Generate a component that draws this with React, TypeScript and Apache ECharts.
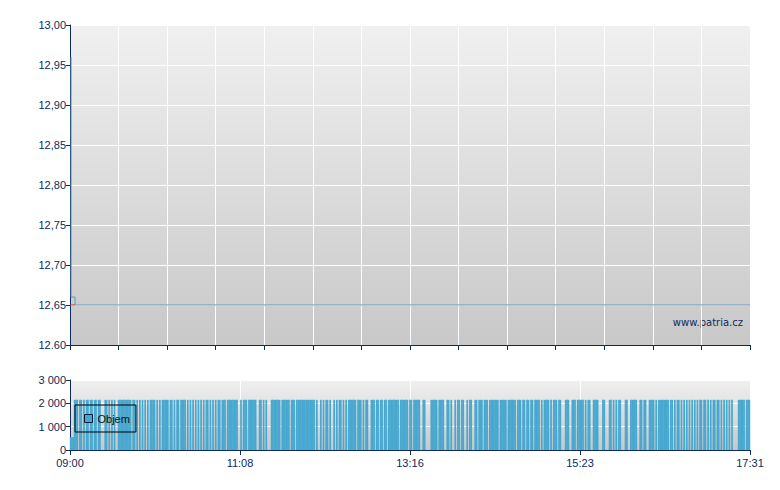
import React, { useEffect, useRef } from "react";
import * as echarts from "echarts";

// Trading session: 09:00 .. 17:31, x in minutes since 09:00
const sessionStart = 9 * 60;
const sessionMinutes = 511;

// Price (step) path
const priceTimes = [0.8, 0.8, 3.8, 3.8, 511];
const priceValues = [12.96, 12.66, 12.66, 12.65, 12.65];
// Previous close marker
const prevCloseTimes = [0, 3.8];
const prevCloseValues = [12.65, 12.65];

const priceTicks = [12.6, 12.65, 12.7, 12.75, 12.8, 12.85, 12.9, 12.95, 13.0];
const volumeTicks = [0, 1000, 2000, 3000];

// Volume: opening auction minutes, regular trade level, and minutes without trades
const openingMinutes = [0, 1, 2];
const openingVolume = 550;
const tradeVolume = 2150;
const emptyMinutes = [
  6, 9, 11, 14, 17, 20, 23, 24, 25, 28, 30, 32, 34, 35, 46, 49, 51, 53, 55, 57, 59, 64, 66, 68, 74, 77, 79, 82,
  87, 89, 91, 93, 95, 97, 99, 101, 104, 106, 108, 110, 113, 117, 126, 127, 129, 133, 140, 141, 144, 146, 148, 149, 150, 158, 165, 169,
  184, 186, 187, 189, 191, 194, 196, 197, 199, 201, 204, 206, 208, 215, 219, 221, 224, 225, 229, 232, 235, 238, 247, 254,
  257, 263, 264, 267, 268, 269, 270, 276, 281, 282, 285, 287, 288, 290, 293, 296, 297, 299, 302, 303, 306, 310, 314, 322, 328, 335, 339,
  342, 345, 348, 353, 355, 360, 362, 366, 369, 370, 371, 375, 376, 380, 386, 388, 391, 392, 397, 398, 399, 402, 403, 404, 407, 409, 411, 414, 415, 416, 419, 420,
  426, 427, 430, 433, 434, 439, 441, 450, 453, 455, 458, 460, 462, 464, 466, 468, 470, 472, 475, 478, 480, 482, 485, 488, 490, 492, 494, 496, 498, 499, 500, 501, 507,
];

const NAVY = "#0c2a5c";
const BLUE = "#48a8d0";
const FONT = "'Liberation Sans', Arial, sans-serif";

function fmtTime(m: number) {
  const t = sessionStart + Math.round(m);
  const h = Math.floor(t / 60);
  const mm = t % 60;
  return (h < 10 ? "0" : "") + h + ":" + (mm < 10 ? "0" : "") + mm;
}

function bg() {
  return new echarts.graphic.LinearGradient(0, 0, 0, 1, [
    { offset: 0, color: "#f0f0f0" },
    { offset: 1, color: "#c8c8c8" },
  ]);
}

export default function App() {
  const ref = useRef<HTMLDivElement>(null);
  useEffect(() => {
    if (!ref.current) return;
    const chart = echarts.init(ref.current, undefined, { renderer: "svg" });

    const empty = new Set(emptyMinutes);
    const volumeData: [number, number][] = [];
    for (let m = 0; m < sessionMinutes; m++) {
      let v = 0;
      if (openingMinutes.indexOf(m) >= 0) v = openingVolume;
      else if (!empty.has(m)) v = tradeVolume;
      if (v > 0) volumeData.push([m + 0.5, v]);
    }

    const axisText = { color: NAVY, fontFamily: FONT, fontSize: 11 };

    chart.setOption({
      animation: false,
      grid: [
        { left: 70, right: 30, top: 25, height: 320, show: true, borderWidth: 0, backgroundColor: bg() },
        { left: 70, right: 30, top: 380, height: 70, show: true, borderWidth: 0, backgroundColor: bg() },
      ],
      xAxis: [
        {
          type: "value", gridIndex: 0, min: 0, max: sessionMinutes, interval: sessionMinutes / 14,
          axisLine: { show: true, onZero: false, lineStyle: { color: NAVY, width: 1 } },
          axisTick: { show: true, length: 5, lineStyle: { color: NAVY } },
          axisLabel: { show: false },
          splitLine: { show: true, lineStyle: { color: "#ffffff", width: 1 } },
        },
        {
          type: "value", gridIndex: 1, min: 0, max: sessionMinutes, interval: sessionMinutes / 4,
          axisLine: { show: true, onZero: false, lineStyle: { color: NAVY, width: 1 } },
          axisTick: { show: true, length: 5, lineStyle: { color: NAVY } },
          axisLabel: { ...axisText, margin: 7, formatter: (v: number) => fmtTime(v) },
          splitLine: { show: true, lineStyle: { color: "#ffffff", width: 1 } },
        },
      ],
      yAxis: [
        {
          type: "value", gridIndex: 0, min: priceTicks[0], max: priceTicks[priceTicks.length - 1], interval: 0.05,
          axisLine: { show: true, lineStyle: { color: NAVY, width: 1 } },
          axisTick: { show: true, length: 4, lineStyle: { color: NAVY } },
          axisLabel: {
            ...axisText, margin: 4,
            formatter: (v: number) => (Math.abs(v - 12.6) < 1e-6 ? v.toFixed(2) : v.toFixed(2).replace(".", ",")),
          },
          splitLine: { show: true, lineStyle: { color: "#ffffff", width: 1 } },
        },
        {
          type: "value", gridIndex: 1, min: volumeTicks[0], max: volumeTicks[volumeTicks.length - 1], interval: 1000,
          axisLine: { show: true, lineStyle: { color: NAVY, width: 1 } },
          axisTick: { show: true, length: 4, lineStyle: { color: NAVY } },
          axisLabel: {
            ...axisText, margin: 4,
            formatter: (v: number) => String(v).replace(/\B(?=(\d{3})+(?!\d))/g, " "),
          },
          splitLine: { show: true, lineStyle: { color: "#ffffff", width: 1 } },
        },
      ],
      legend: {
        data: [{ name: "Objem", icon: "rect" }],
        left: 75, top: 405,
        orient: "horizontal",
        padding: [8, 6, 8, 9],
        itemWidth: 8, itemHeight: 8,
        borderColor: "#000000", borderWidth: 1, borderRadius: 0,
        backgroundColor: "transparent",
        itemStyle: { color: BLUE, borderColor: "#0b1a3a", borderWidth: 1 },
        textStyle: { color: "#111111", fontFamily: FONT, fontSize: 11 },
        selectedMode: false,
      },
      graphic: [
        {
          type: "text", right: 37, top: 317,
          style: { text: "www.patria.cz", fill: NAVY, font: "10px 'DejaVu Sans', sans-serif" },
        },
      ],
      series: [
        {
          name: "Objem", type: "bar", xAxisIndex: 1, yAxisIndex: 1,
          data: volumeData, barWidth: 1.75,
          itemStyle: { color: BLUE },
        },
        {
          name: "Cena", type: "line", xAxisIndex: 0, yAxisIndex: 0,
          data: priceTimes.map((t, i) => [t, priceValues[i]]),
          showSymbol: false, symbol: "none",
          lineStyle: { color: "#5a9cc4", width: 1 },
        },
        {
          name: "Předchozí", type: "line", xAxisIndex: 0, yAxisIndex: 0,
          data: prevCloseTimes.map((t, i) => [t, prevCloseValues[i]]),
          showSymbol: false, symbol: "none",
          lineStyle: { color: "#d03020", width: 1 },
        },
      ],
    });
    return () => chart.dispose();
  }, []);
  return <div ref={ref} style={{ width: 780, height: 490, position: "absolute", left: 0, top: 0 }} />;
}
